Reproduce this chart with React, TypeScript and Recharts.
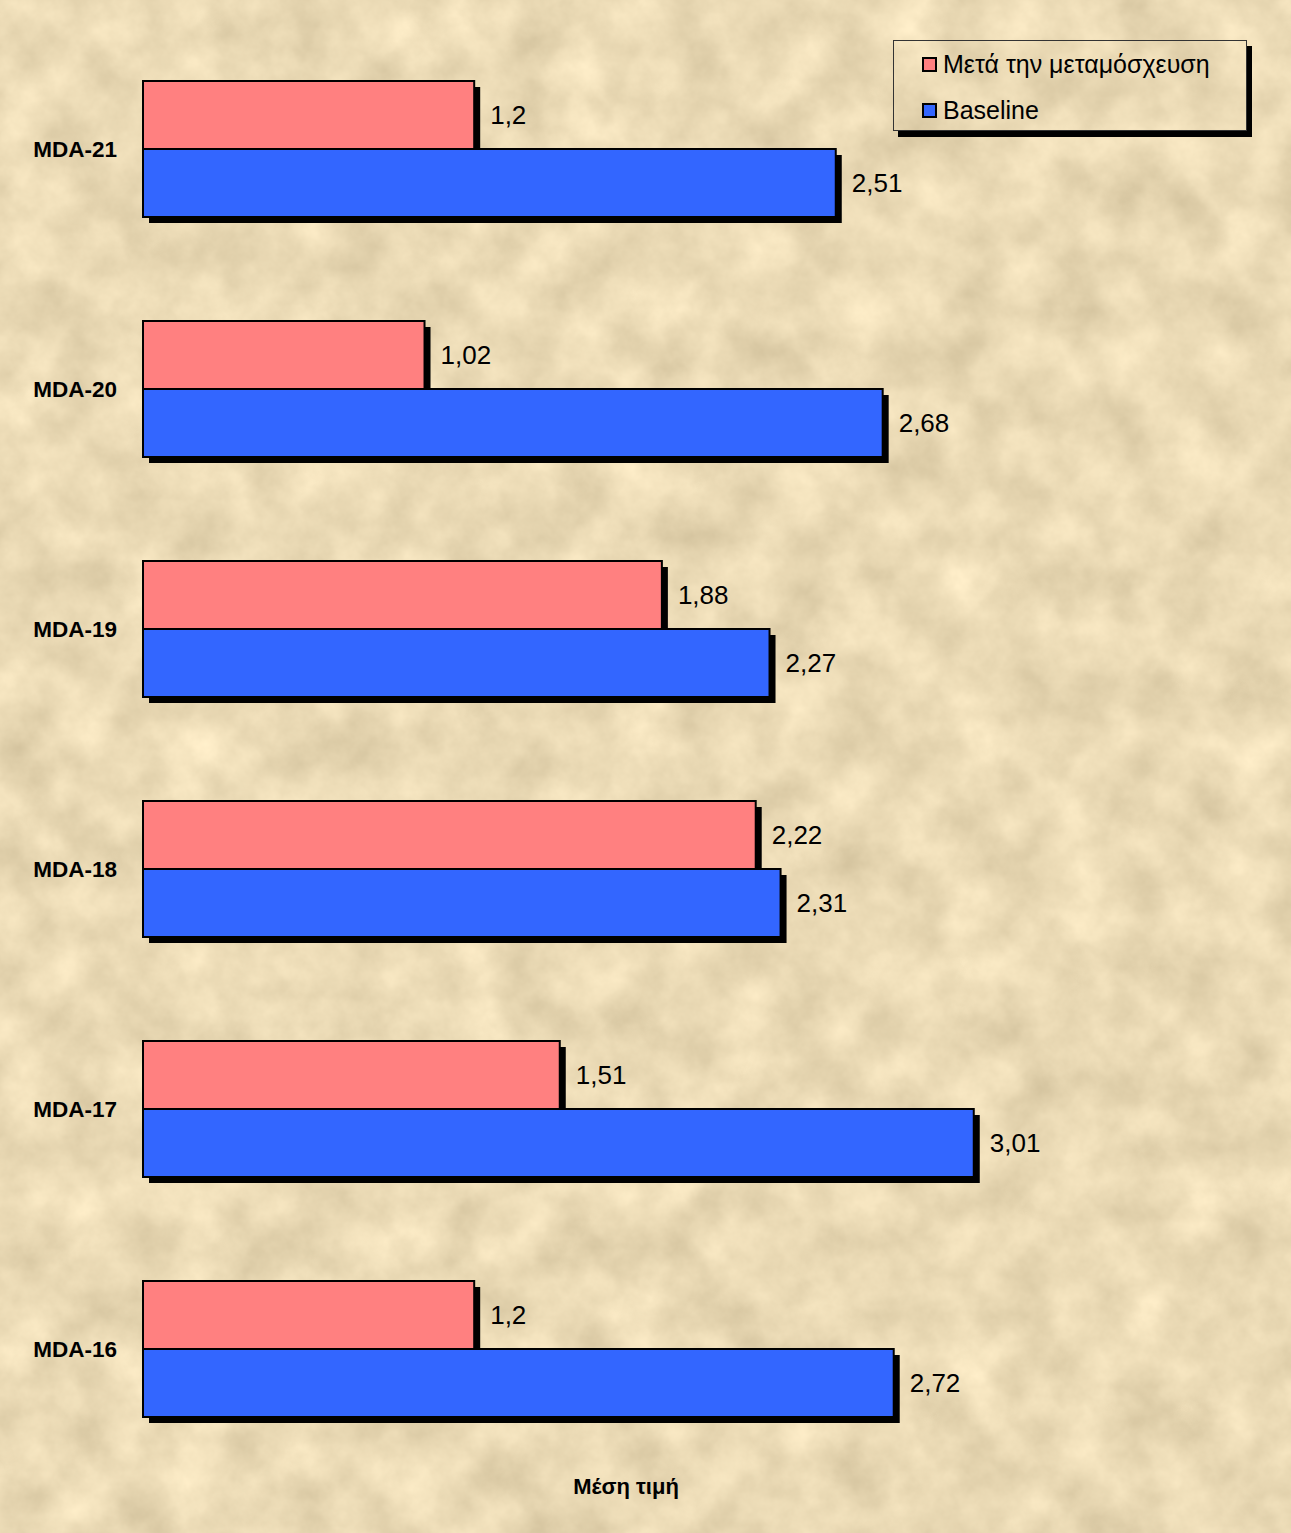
import React from 'react';
import { BarChart, Bar, XAxis, YAxis, LabelList } from 'recharts';

// Groups, listed top to bottom
const categories = ['MDA-21', 'MDA-20', 'MDA-19', 'MDA-18', 'MDA-17', 'MDA-16'];
// Mean score after transplantation
const afterValues = [1.2, 1.02, 1.88, 2.22, 1.51, 1.2];
// Mean score at baseline
const baselineValues = [2.51, 2.68, 2.27, 2.31, 3.01, 2.72];

const seriesNames = ['Μετά την μεταμόσχευση', 'Baseline'];
const axisTitle = 'Μέση τιμή';

const data = categories.map((name, i) => ({
  name,
  after: afterValues[i],
  baseline: baselineValues[i],
}));

const FONT = "Arial, 'Liberation Sans', sans-serif";
const PINK = '#FF8080';
const BLUE = '#3366FF';
const seriesColors = [PINK, BLUE];

// Bar with a solid black drop shadow and black outline
const ShadowBar = (props: any) => {
  const { x, y, width, height, fill } = props;
  if (width == null || height == null) return null;
  return (
    <g>
      <rect x={x + 6} y={y + 6} width={width} height={height} fill="#000" />
      <rect x={x} y={y} width={width} height={height} fill={fill} stroke="#000" strokeWidth={2} />
    </g>
  );
};

const CategoryTick = (props: any) => {
  const { x, y, payload } = props;
  return (
    <text
      x={x}
      y={y}
      textAnchor="end"
      dominantBaseline="central"
      fontFamily={FONT}
      fontWeight="bold"
      fontSize={22.5}
      fill="#000"
    >
      {payload.value}
    </text>
  );
};

// Framed legend with a hard black shadow
const LegendBox = () => (
  <div
    style={{
      position: 'absolute',
      left: 893,
      top: 40,
      width: 354,
      height: 91,
      boxSizing: 'border-box',
      border: '1px solid #333',
      boxShadow: '5px 6px 0 #000',
      fontFamily: FONT,
      fontSize: 25,
      color: '#000',
    }}
  >
    {seriesNames.map((label, i) => (
      <div
        key={label}
        style={{
          position: 'absolute',
          left: 28,
          top: 23 + i * 46 - 15,
          height: 30,
          display: 'flex',
          alignItems: 'center',
          whiteSpace: 'nowrap',
        }}
      >
        <span
          style={{
            display: 'inline-block',
            width: 11,
            height: 11,
            border: '2px solid #000',
            background: seriesColors[i],
            marginRight: 6,
          }}
        />
        <span>{label}</span>
      </div>
    ))}
  </div>
);

const fmt = (v: any) => String(v).replace('.', ',');

export default function App() {
  return (
    <div style={{ position: 'absolute', top: 0, left: 0, width: 1291, height: 1533, overflow: 'hidden' }}>
      <svg width={1291} height={1533} style={{ position: 'absolute', top: 0, left: 0 }}>
        <defs>
          <filter id="parchment" x="0" y="0" width="100%" height="100%" colorInterpolationFilters="sRGB">
            <feTurbulence type="fractalNoise" baseFrequency="0.018" numOctaves={5} seed={7} />
            <feColorMatrix
              type="matrix"
              values="0.2 0 0 0 0.82  0.2 0 0 0 0.755  0.2 0 0 0 0.61  0 0 0 0 1"
            />
          </filter>
        </defs>
        <rect x={0} y={0} width={1291} height={1533} fill="#EBD9B4" />
        <rect x={0} y={0} width={1291} height={1533} filter="url(#parchment)" />
      </svg>
      <div style={{ position: 'absolute', top: 0, left: 0 }}>
        <BarChart
          width={1291}
          height={1533}
          data={data}
          layout="vertical"
          margin={{ top: 29, right: 44, bottom: 64, left: 0 }}
          barGap={0}
        >
          <XAxis type="number" domain={[0, 4]} hide />
          <YAxis
            type="category"
            dataKey="name"
            width={143}
            axisLine={false}
            tickLine={false}
            tickSize={0}
            tickMargin={26}
            tick={<CategoryTick />}
          />
          <Bar
            dataKey="after"
            name={seriesNames[0]}
            fill={PINK}
            barSize={68}
            shape={<ShadowBar />}
            isAnimationActive={false}
          >
            <LabelList
              dataKey="after"
              position="right"
              offset={16}
              formatter={fmt}
              fill="#000"
              fontSize={26}
              fontFamily={FONT}
            />
          </Bar>
          <Bar
            dataKey="baseline"
            name={seriesNames[1]}
            fill={BLUE}
            barSize={68}
            shape={<ShadowBar />}
            isAnimationActive={false}
          >
            <LabelList
              dataKey="baseline"
              position="right"
              offset={16}
              formatter={fmt}
              fill="#000"
              fontSize={26}
              fontFamily={FONT}
            />
          </Bar>
        </BarChart>
      </div>
      <LegendBox />
      <div
        style={{
          position: 'absolute',
          left: 526,
          width: 200,
          top: 1474,
          textAlign: 'center',
          fontFamily: FONT,
          fontWeight: 'bold',
          fontSize: 22,
          color: '#000',
        }}
      >
        {axisTitle}
      </div>
    </div>
  );
}
